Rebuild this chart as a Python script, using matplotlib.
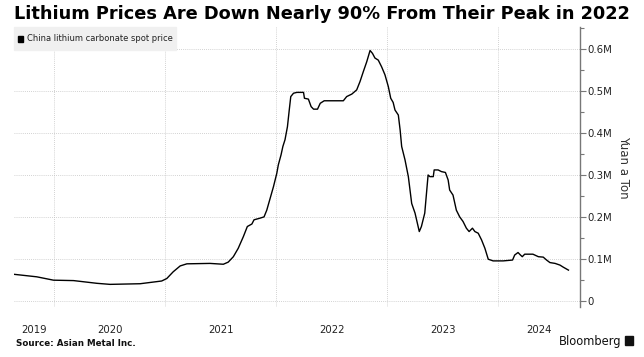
import matplotlib
matplotlib.use("Agg")
import matplotlib.pyplot as plt
import matplotlib.ticker as mticker
import pandas as pd

# China lithium carbonate spot price, thousand yuan per ton
dates = [
    "2019-08-22", "2019-11-05", "2019-12-30", "2020-03-05", "2020-05-21",
    "2020-07-03", "2020-10-10", "2020-12-20", "2021-01-06", "2021-01-27",
    "2021-02-19", "2021-03-13", "2021-05-28", "2021-07-11", "2021-07-27",
    "2021-08-13", "2021-08-29", "2021-09-15", "2021-09-28", "2021-10-13",
    "2021-10-20", "2021-11-09", "2021-11-22", "2021-12-01", "2021-12-12",
    "2021-12-23", "2022-01-03", "2022-01-08", "2022-01-17", "2022-01-23",
    "2022-01-30", "2022-02-07", "2022-02-13", "2022-02-18", "2022-02-27",
    "2022-03-10", "2022-04-01", "2022-04-04", "2022-04-17", "2022-04-26",
    "2022-05-04", "2022-05-17", "2022-05-26", "2022-06-08", "2022-08-10",
    "2022-08-21", "2022-09-07", "2022-09-23", "2022-10-04", "2022-10-15",
    "2022-10-26", "2022-11-06", "2022-11-14", "2022-11-22", "2022-12-03",
    "2022-12-14", "2022-12-25", "2023-01-05", "2023-01-13", "2023-01-21",
    "2023-01-27", "2023-02-07", "2023-02-13", "2023-02-18", "2023-03-01",
    "2023-03-12", "2023-03-23", "2023-04-03", "2023-04-17", "2023-04-24",
    "2023-05-05", "2023-05-16", "2023-05-22", "2023-06-02", "2023-06-05",
    "2023-06-18", "2023-06-29", "2023-07-12", "2023-07-21", "2023-07-26",
    "2023-08-06", "2023-08-17", "2023-08-28", "2023-09-08", "2023-09-19",
    "2023-09-28", "2023-10-09", "2023-10-17", "2023-10-28", "2023-11-08",
    "2023-11-19", "2023-11-30", "2023-12-16", "2024-01-18", "2024-02-18",
    "2024-02-25", "2024-03-07", "2024-03-15", "2024-03-21", "2024-03-29",
    "2024-04-25", "2024-05-13", "2024-05-29", "2024-06-09", "2024-06-20",
    "2024-07-07", "2024-07-23", "2024-08-03", "2024-08-20",
]
price_k = [
    63, 57, 49, 48, 41.5,
    39, 40.5, 47, 53, 69,
    83, 88, 89, 87, 92,
    105, 125, 153, 177, 183,
    193, 197, 200, 216, 244,
    272, 304, 324, 348, 368,
    384, 415, 455, 487, 495,
    497, 497, 483, 481, 463,
    457, 457, 471, 477, 477,
    487, 493, 503, 523, 547,
    570, 597, 590, 579, 574,
    558, 539, 511, 483, 473,
    455, 443, 407, 368, 336,
    296, 232, 209, 165, 177,
    209, 300, 296, 296, 312,
    312, 308, 306, 288, 264,
    252, 216, 200, 189, 173,
    165, 173, 165, 161, 145,
    125, 99, 95, 95, 97,
    109, 115, 109, 105, 111,
    111, 105, 104, 97, 91,
    89, 85, 80, 73,
]
years = [2019, 2020, 2021, 2022, 2023, 2024]
y_ticks = [0, 100_000, 200_000, 300_000, 400_000, 500_000, 600_000]
y_labels = ["0", "0.1M", "0.2M", "0.3M", "0.4M", "0.5M", "0.6M"]

x = pd.to_datetime(dates)
y = [v * 1000 for v in price_k]
x_start = x[0]
x_end = pd.Timestamp("2024-09-27")

fig = plt.figure(figsize=(6.44, 3.57), dpi=100)
ax = fig.add_axes([14 / 644, 1 - 307 / 357, (580 - 14) / 644, (307 - 27) / 357])

ax.plot(x, y, color="black", lw=1.0)

ax.set_xlim(x_start, x_end)
ax.set_ylim(-15_000, 653_000)

# grid at year boundaries, labels centred in the visible part of each year
bounds = [pd.Timestamp(f"{yr}-01-01") for yr in years[1:]]
ax.set_xticks(bounds)
ax.set_xticklabels([])
mids = []
for yr in years:
    a = max(pd.Timestamp(f"{yr}-01-01"), x_start)
    b = min(pd.Timestamp(f"{yr + 1}-01-01"), x_end)
    mids.append(a + (b - a) / 2)
ax.set_xticks(mids, minor=True)
ax.set_xticklabels([str(yr) for yr in years], minor=True)
ax.tick_params(axis="x", which="both", length=0, pad=13, labelsize=7.3,
               labelcolor="#222222")

ax.yaxis.tick_right()
ax.yaxis.set_label_position("right")
ax.set_yticks(y_ticks)
ax.set_yticklabels(y_labels)
ax.yaxis.set_minor_locator(mticker.FixedLocator([50_000 + 100_000 * i for i in range(7)]))
ax.tick_params(axis="y", which="major", length=4, width=0.8, color="#777777",
               labelsize=7.3, labelcolor="#222222", pad=1)
ax.tick_params(axis="y", which="minor", length=3, width=0.8, color="#777777")
ax.set_ylabel("Yuan a Ton", rotation=270, fontsize=8.5, color="#333333", labelpad=13)

ax.grid(True, which="major", color="#c4c4c4", lw=0.6, ls=(0, (1, 1.5)))
for side in ["left", "top", "bottom"]:
    ax.spines[side].set_visible(False)
ax.spines["right"].set_color("#777777")
ax.spines["right"].set_linewidth(1.0)

# legend box
fig.patches.append(plt.Rectangle((14 / 644, 1 - 50 / 357), 162 / 644, 23 / 357,
                                 transform=fig.transFigure, color="#f0f0f0", zorder=3))
fig.patches.append(plt.Rectangle((18 / 644, 1 - 41.5 / 357), 5 / 644, 5.5 / 357,
                                 transform=fig.transFigure, color="black", zorder=4))
fig.text(27 / 644, 1 - 38.5 / 357, "China lithium carbonate spot price", fontsize=6.0,
         color="#222222", va="center", ha="left", zorder=5)

fig.text(14 / 644, 1 - 14 / 357, "Lithium Prices Are Down Nearly 90% From Their Peak in 2022",
         fontsize=12.8, fontweight="bold", va="center", ha="left", color="black")
fig.text(16 / 644, 1 - 343 / 357, "Source: Asian Metal Inc.", fontsize=6.3,
         fontweight="bold", va="center", ha="left", color="#111111")
fig.text(621 / 644, 1 - 341 / 357, "Bloomberg", fontsize=8.3, va="center", ha="right",
         color="#111111")
fig.patches.append(plt.Rectangle((625 / 644, 1 - 345 / 357), 8 / 644, 9 / 357,
                                 transform=fig.transFigure, color="#111111", zorder=4))

fig.savefig("out.png", dpi=100)
